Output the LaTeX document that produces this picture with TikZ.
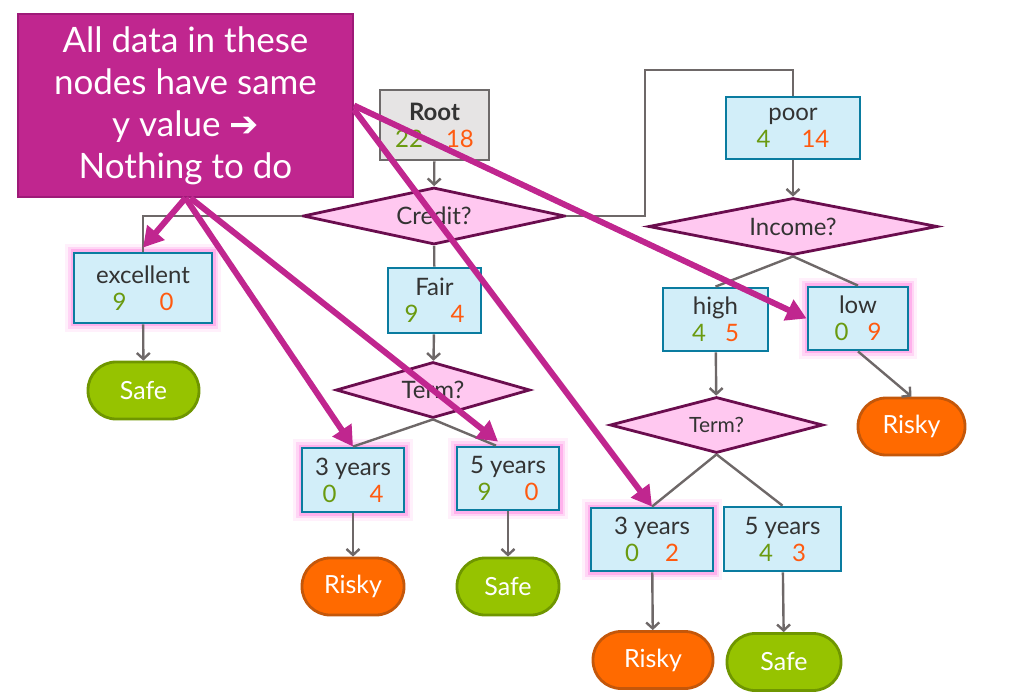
\documentclass[tikz,border=0pt]{standalone}
\usepackage{fontspec}
\setmainfont{Lato}
\newfontfamily\symfont{DejaVu Sans}
\usetikzlibrary{shapes.geometric,arrows.meta}
\definecolor{ink}{HTML}{333333}
\definecolor{boxfill}{HTML}{D2EEF9}
\definecolor{boxline}{HTML}{0A7CA0}
\definecolor{rootfill}{HTML}{E6E4E4}
\definecolor{rootline}{HTML}{6E6A6A}
\definecolor{testfill}{HTML}{FFC8F0}
\definecolor{testline}{HTML}{6A0D4E}
\definecolor{linkgray}{HTML}{6E6868}
\definecolor{pos}{HTML}{6A9A10}
\definecolor{neg}{HTML}{FF5A10}
\definecolor{safefill}{HTML}{96C300}
\definecolor{safeline}{HTML}{6F9600}
\definecolor{riskyfill}{HTML}{FF6A00}
\definecolor{riskyline}{HTML}{C4570A}
\definecolor{note}{HTML}{C0268F}
\definecolor{noteline}{HTML}{9E1A78}
\definecolor{glow}{HTML}{FF99E6}
\newcommand{\yn}[3]{{\color{pos}#1}\hspace{#3}{\color{neg}#2}}

\begin{document}
\begin{tikzpicture}[x=1pt,y=-1pt,
  box/.style={draw=boxline,fill=boxfill,line width=2.8pt,align=center,text=ink,inner sep=0pt,font=\fontsize{24}{27}\selectfont},
  hot/.style={preaction={draw=glow,line width=18pt,opacity=.15},preaction={draw=glow,line width=12pt,opacity=.3},preaction={draw=glow,line width=7pt,opacity=.6}},
  test/.style={diamond,aspect=4,draw=testline,fill=testfill,line width=2.8pt,inner sep=0pt,text=ink,font=\fontsize{24}{26}\selectfont},
  leaf/.style={rectangle,rounded corners=28pt,line width=2.8pt,text=white,font=\fontsize{25}{26}\selectfont,minimum height=57pt},
  safe/.style={leaf,draw=safeline,fill=safefill},
  risky/.style={leaf,draw=riskyline,fill=riskyfill},
  link/.style={draw=linkgray,line width=2.4pt},
  flow/.style={link,-{Straight Barb[length=6pt,width=13pt]}},
  point/.style={draw=note,line width=6pt,-{Triangle[length=20pt,width=22pt]}}]
\useasboundingbox (0,0) rectangle (1017,692);

\node[box,draw=rootline,fill=rootfill,minimum width=109pt,minimum height=70pt] (root) at (434.5,125) {\textbf{Root}\\\yn{22}{18}{23pt}};
\node[test,minimum width=262pt,minimum height=57pt] (credit) at (434,216) {Credit?};
\node[box,hot,minimum width=138pt,minimum height=70pt] (exc) at (143,288) {excellent\\\yn{9}{0}{33pt}};
\node[box,minimum width=93pt,minimum height=65pt] (fair) at (434.5,300.5) {Fair\\\yn{9}{4}{32pt}};
\node[box,minimum width=134pt,minimum height=62pt] (poor) at (793,128) {poor\\\yn{4}{14}{31pt}};
\node[safe,minimum width=111pt] (safeA) at (143.5,390.5) {Safe};
\node[test,minimum width=194pt,minimum height=56pt] (termA) at (433,390) {Term?};
\node[box,hot,minimum width=102pt,minimum height=64pt] (threeA) at (353,480) {3 years\\\yn{0}{4}{33pt}};
\node[box,hot,minimum width=102pt,minimum height=63pt] (fiveA) at (508,478.5) {5 years\\\yn{9}{0}{33pt}};
\node[risky,minimum width=102pt] (riskyA) at (353,586.5) {Risky};
\node[safe,minimum width=102pt] (safeB) at (508,586.5) {Safe};
\node[test,minimum width=289pt,minimum height=57pt] (income) at (793,226.5) {Income?};
\node[box,minimum width=105pt,minimum height=63pt] (high) at (715.5,319.5) {high\\\yn{4}{5}{19pt}};
\node[box,hot,minimum width=100pt,minimum height=63pt] (low) at (858,318.5) {low\\\yn{0}{9}{19pt}};
\node[risky,minimum width=107pt] (riskyB) at (911.5,426.5) {Risky};
\node[test,minimum width=213pt,minimum height=56pt,font=\fontsize{21}{24}\selectfont] (termB) at (716.5,425) {Term?};
\node[box,hot,minimum width=122pt,minimum height=63pt] (threeB) at (652,539.5) {3 years\\\yn{0}{2}{26pt}};
\node[box,minimum width=117pt,minimum height=64pt] (fiveB) at (782.5,539) {5 years\\\yn{4}{3}{19pt}};
\node[risky,minimum width=120pt] (riskyC) at (653,660) {Risky};
\node[safe,minimum width=114pt] (safeC) at (784,662) {Safe};
\coordinate (bend) at (645,70);

\draw[flow] (root) -- (credit);
\draw[link] (credit.west) -| (exc.north);
\draw[link] (credit.east) -| (bend) -| (poor.north);
\draw[link] (credit) -- (fair);
\draw[flow] (fair) -- (termA);
\draw[flow] (exc) -- (safeA);
\draw[link] (termA.south) -- (threeA.north);
\draw[link] (termA.south) -- ([xshift=-12pt]fiveA.north);
\draw[flow] (threeA) -- (riskyA);
\draw[flow] (fiveA) -- (safeB);
\draw[flow] (poor) -- (income);
\draw[link] (income.south) -- (high.north);
\draw[link] (income.south) -- (low.north);
\draw[flow] (low.south) -- (riskyB.north);
\draw[flow] (high) -- (termB);
\draw[link] (termB.south) -- (threeB.north);
\draw[link] (termB.south) -- (fiveB.north);
\draw[flow] (threeB) -- (riskyC);
\draw[flow] (fiveB) -- (safeC);

\node[draw=noteline,fill=note,line width=2pt,text=white,align=center,minimum width=335pt,minimum height=183pt,font=\fontsize{35}{42}\selectfont] (note) at (185.5,105.5) {All data in these\\nodes have same\\y value {\symfont ➔}\\Nothing to do};
\draw[point] (note.south) -- ([yshift=4pt]exc.north);
\draw[point] (note.south) -- (threeA.north);
\draw[point] ([xshift=5pt]note.south) -- ([xshift=-10pt,yshift=4pt]fiveA.north);
\draw[point] (note.east) -- (low.west);
\draw[point] ([yshift=-4pt]note.east) -- (threeB.north);
\end{tikzpicture}
\end{document}
